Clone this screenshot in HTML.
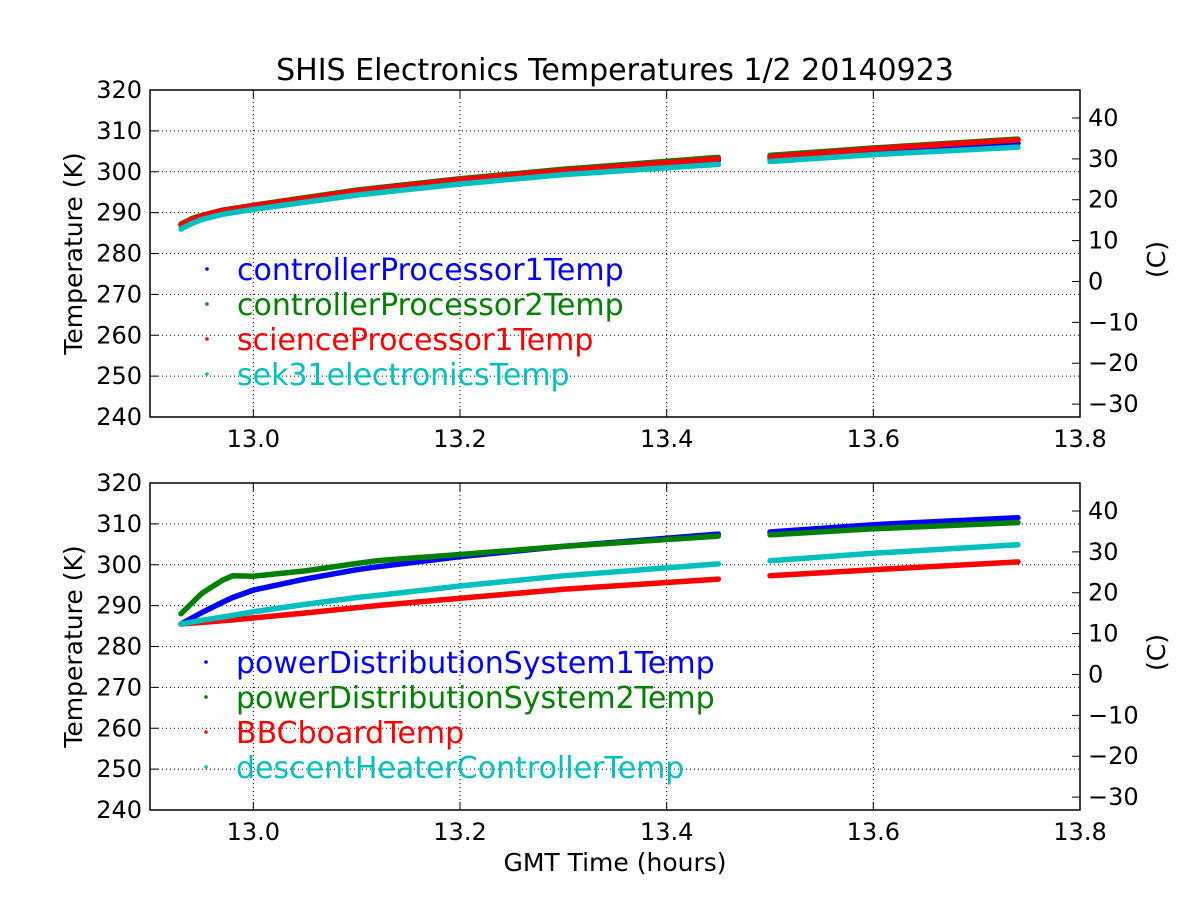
<!DOCTYPE html>
<html><head><meta charset="utf-8"><style>
html,body{margin:0;padding:0;background:#fff;}
svg{display:block;font-family:"DejaVu Sans","Liberation Sans",sans-serif;}
</style></head><body>
<svg id="chart" width="1200" height="900" viewBox="0 0 1200 900" xmlns="http://www.w3.org/2000/svg">
<rect width="1200" height="900" fill="#fff"/>
<text x="615" y="80" font-size="30" text-anchor="middle">SHIS Electronics Temperatures 1/2 20140923</text>
<text x="615" y="871" font-size="25" text-anchor="middle">GMT Time (hours)</text>
</svg>
<script>
const xTicks = [13.0, 13.2, 13.4, 13.6, 13.8];
const xMinorGrid = [13.0, 13.2, 13.4, 13.6];
const yTicksK = [240, 250, 260, 270, 280, 290, 300, 310, 320];
const yTicksC = [-30, -20, -10, 0, 10, 20, 30, 40];
const topTimes = [12.93, 12.94, 12.95, 12.97, 13.0, 13.1, 13.2, 13.3, 13.45, null, 13.5, 13.6, 13.74];
const topNames = ["controllerProcessor1Temp", "controllerProcessor2Temp", "scienceProcessor1Temp", "sek31electronicsTemp"];
const topBlue  = [287.0, 288.2, 289.0, 290.3, 291.5, 295.0, 297.8, 300.0, 302.8, null, 303.3, 305.0, 307.0];
const topGreen = [287.2, 288.5, 289.3, 290.6, 291.8, 295.5, 298.3, 300.6, 303.5, null, 304.0, 305.8, 308.0];
const topRed   = [287.0, 288.3, 289.2, 290.5, 291.7, 295.3, 298.1, 300.3, 303.2, null, 303.6, 305.6, 307.8];
const topCyan  = [286.0, 287.3, 288.3, 289.6, 290.8, 294.3, 297.0, 299.3, 301.8, null, 302.5, 304.2, 306.0];
const botTimes = [12.93, 12.95, 12.97, 12.98, 13.0, 13.05, 13.1, 13.12, 13.2, 13.3, 13.45, null, 13.5, 13.6, 13.74];
const botNames = ["powerDistributionSystem1Temp", "powerDistributionSystem2Temp", "BBCboardTemp", "descentHeaterControllerTemp"];
const botBlue  = [285.5, 288.3, 290.8, 292.0, 293.8, 296.5, 298.8, 299.5, 302.0, 304.5, 307.5, null, 308.0, 309.8, 311.5];
const botGreen = [288.0, 293.0, 296.2, 297.3, 297.2, 298.5, 300.3, 301.0, 302.5, 304.5, 307.0, null, 307.3, 308.8, 310.3];
const botRed   = [285.5, 285.9, 286.3, 286.5, 287.0, 288.2, 289.5, 290.0, 291.8, 294.0, 296.5, null, 297.3, 298.8, 300.7];
const botCyan  = [285.5, 286.4, 287.2, 287.6, 288.5, 290.3, 292.0, 292.5, 294.8, 297.3, 300.2, null, 301.0, 302.8, 304.9];
const colors = ["#0000ff", "#008000", "#ff0000", "#00bfbf"];

const NS = "http://www.w3.org/2000/svg";
const svg = document.getElementById('chart');
function mk(tag, attrs, parent) {
  const e = document.createElementNS(NS, tag);
  for (const k in attrs) e.setAttribute(k, attrs[k]);
  (parent || svg).appendChild(e);
  return e;
}
const L = 150, R = 1080;
const xs = t => L + (t - 12.9) / 0.9 * (R - L);

function panel(top, bottom, times, series, names, tag, legendX, legendY) {
  const ys = v => bottom - (v - 240) / 80 * (bottom - top);
  const g = mk('g', {});
  
  
  xMinorGrid.forEach(t => {
    const l = mk('line', {x1: xs(t), x2: xs(t), y1: top, y2: bottom, stroke: '#000', 'stroke-width': 1, 'stroke-dasharray': '1,3'}, g);
    
    
  });
  yTicksK.forEach(v => {
    if (v === 240 || v === 320) return;
    const l = mk('line', {x1: L, x2: R, y1: ys(v), y2: ys(v), stroke: '#000', 'stroke-width': 1, 'stroke-dasharray': '1,3'}, g);
    
    
  });
  series.forEach((vals, si) => {
    let segs = [], cur = [];
    times.forEach((t, i) => {
      if (t === null || vals[i] === null) { if (cur.length) segs.push(cur); cur = []; }
      else cur.push(xs(t).toFixed(1) + ',' + ys(vals[i]).toFixed(1));
    });
    if (cur.length) segs.push(cur);
    segs.forEach(s => {
      const p = mk('polyline', {points: s.join(' '), fill: 'none', stroke: colors[si], 'stroke-width': 5.5, 'stroke-linecap': 'round', 'stroke-linejoin': 'round'}, g);
      
      
    });
  });
  const f = mk('rect', {x: L, y: top, width: R - L, height: bottom - top, fill: 'none', stroke: '#000', 'stroke-width': 1.5}, g);
  
  
  xTicks.forEach(t => {
    mk('line', {x1: xs(t), x2: xs(t), y1: bottom, y2: bottom - 8, stroke: '#000'}, g);
    mk('line', {x1: xs(t), x2: xs(t), y1: top, y2: top + 8, stroke: '#000'}, g);
    const tx = mk('text', {x: xs(t), y: bottom + 30, 'font-size': 24, 'text-anchor': 'middle'}, g);
    tx.textContent = t.toFixed(1);
    
    
  });
  yTicksK.forEach(v => {
    mk('line', {x1: L, x2: L + 8, y1: ys(v), y2: ys(v), stroke: '#000'}, g);
    const tx = mk('text', {x: L - 8, y: ys(v) + 8, 'font-size': 24, 'text-anchor': 'end'}, g);
    tx.textContent = v;
    
    
  });
  yTicksC.forEach(c => {
    const y = ys(c + 273.15);
    mk('line', {x1: R - 8, x2: R, y1: y, y2: y, stroke: '#000'}, g);
    const tx = mk('text', {x: R + 8, y: y + 8, 'font-size': 24, 'text-anchor': 'start'}, g);
    tx.textContent = c < 0 ? '\u2212' + (-c) : c;
    
    
  });
  const cy = (top + bottom) / 2;
  const yl = mk('text', {x: 82, y: cy, 'font-size': 25, 'text-anchor': 'middle', transform: 'rotate(-90 82 ' + cy + ')'}, g);
  yl.textContent = 'Temperature (K)';
  
  
  const yr = mk('text', {x: 1165, y: cy + 6, 'font-size': 25, 'text-anchor': 'middle', transform: 'rotate(-90 1165 ' + (cy + 6) + ')'}, g);
  yr.textContent = '(C)';
  
  
  names.forEach((n, i) => {
    const y = legendY + i * 35;
    const c = mk('circle', {cx: legendX - 30, cy: y, r: 1.8, fill: colors[i]}, g);
    
    
    const tx = mk('text', {x: legendX, y: y + 11, 'font-size': 30, fill: colors[i]}, g);
    tx.textContent = n;
    
    
  });
}
panel(90, 417, topTimes, [topBlue, topGreen, topRed, topCyan], topNames, 'top', 237, 269);
panel(483, 810, botTimes, [botBlue, botGreen, botRed, botCyan], botNames, 'bottom', 236, 662);
</script>
</body></html>
